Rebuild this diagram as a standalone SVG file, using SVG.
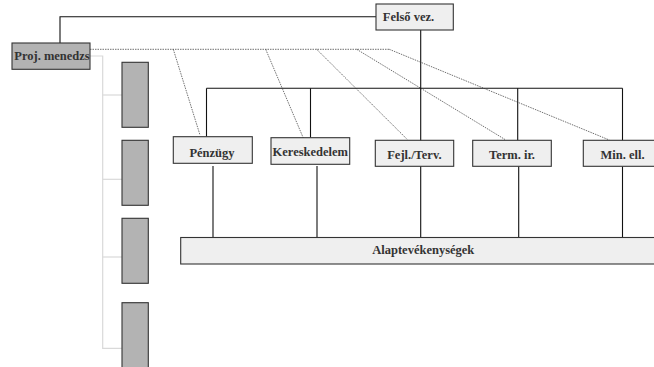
<svg xmlns="http://www.w3.org/2000/svg" width="654" height="367" viewBox="0 0 654 367">
<style>
.box{fill:#efefef;stroke:#333;stroke-width:1.1}
.gbox{fill:#b3b3b3;stroke:#333;stroke-width:1.1}
.t{font-family:"Liberation Serif","Times New Roman",serif;font-weight:bold;font-size:12.5px;fill:#333;text-anchor:middle}
.ln{stroke:#111;stroke-width:1.1;fill:none}
.lg{stroke:#d9d9d9;stroke-width:1.2;fill:none}
.dt{stroke:#333;stroke-width:0.7;stroke-dasharray:1.5 1;fill:none}
</style>
<rect width="654" height="367" fill="#fff"/>
<g id="connectors">
  <polyline class="ln" points="60,43 60,16.7 376,16.7"/>
  <line class="ln" x1="420.7" y1="30" x2="420.7" y2="237.5"/>
  <line class="ln" x1="206.5" y1="88.3" x2="622.5" y2="88.3"/>
  <line class="ln" x1="206.5" y1="88.3" x2="206.5" y2="136.7"/>
  <line class="ln" x1="310.5" y1="88.3" x2="310.5" y2="137.7"/>
  <line class="ln" x1="517.7" y1="88.3" x2="517.7" y2="140.3"/>
  <line class="ln" x1="622.5" y1="88.3" x2="622.5" y2="140.3"/>
  <line class="ln" x1="213" y1="166" x2="213" y2="237.5"/>
  <line class="ln" x1="317" y1="166" x2="317" y2="237.5"/>
  <line class="ln" x1="518.7" y1="166.3" x2="518.7" y2="237.5"/>
  <line class="ln" x1="622.5" y1="166.3" x2="622.5" y2="237.5"/>
  <polyline class="lg" points="90,56 102.7,56 102.7,348.3 122,348.3"/>
  <line class="lg" x1="102.7" y1="95" x2="122" y2="95"/>
  <line class="lg" x1="102.7" y1="179.3" x2="122" y2="179.3"/>
  <line class="lg" x1="102.7" y1="257" x2="122" y2="257"/>
  <line class="dt" x1="90" y1="49.3" x2="389.3" y2="49.3"/>
  <line class="dt" x1="173.3" y1="49.3" x2="200" y2="135"/>
  <line class="dt" x1="265.7" y1="49.3" x2="303.3" y2="138"/>
  <line class="dt" x1="316.7" y1="49.3" x2="407.3" y2="139.5"/>
  <line class="dt" x1="356.7" y1="49.3" x2="505" y2="139.5"/>
  <line class="dt" x1="389.3" y1="49.3" x2="609.3" y2="140"/>
</g>
<g id="felso-vez"><rect class="box" x="376" y="4" width="77.3" height="26"/><text class="t" x="408.5" y="21">Felső vez.</text></g>
<g id="proj-menedzs"><rect class="gbox" x="12" y="43" width="78" height="26.3"/><text class="t" x="52" y="59.5">Proj. menedzs</text></g>
<g id="proj-1"><rect class="gbox" x="122" y="62.3" width="26.3" height="65"/></g>
<g id="proj-2"><rect class="gbox" x="122" y="140.3" width="26.3" height="65"/></g>
<g id="proj-3"><rect class="gbox" x="122" y="218.3" width="26.3" height="65"/></g>
<g id="proj-4"><rect class="gbox" x="122" y="302.7" width="26.3" height="70"/></g>
<g id="penzugy"><rect class="box" x="173.3" y="136.7" width="79" height="26.6"/><text class="t" x="212" y="156.7">Pénzügy</text></g>
<g id="kereskedelem"><rect class="box" x="271" y="137.7" width="78.7" height="26.6"/><text class="t" x="310.3" y="156">Kereskedelem</text></g>
<g id="fejl-terv"><rect class="box" x="375.3" y="140.3" width="78.4" height="26"/><text class="t" x="414.4" y="158.5">Fejl./Terv.</text></g>
<g id="term-ir"><rect class="box" x="472.7" y="140.3" width="78.6" height="26"/><text class="t" x="512" y="158.5">Term. ir.</text></g>
<g id="min-ell"><rect class="box" x="583.3" y="140.3" width="78.4" height="26"/><text class="t" x="622.5" y="158.5">Min. ell.</text></g>
<g id="alaptevekenysegek"><rect class="box" x="180.7" y="237.5" width="485" height="26.5"/><text class="t" x="423.3" y="253.5">Alaptevékenységek</text></g>
</svg>
